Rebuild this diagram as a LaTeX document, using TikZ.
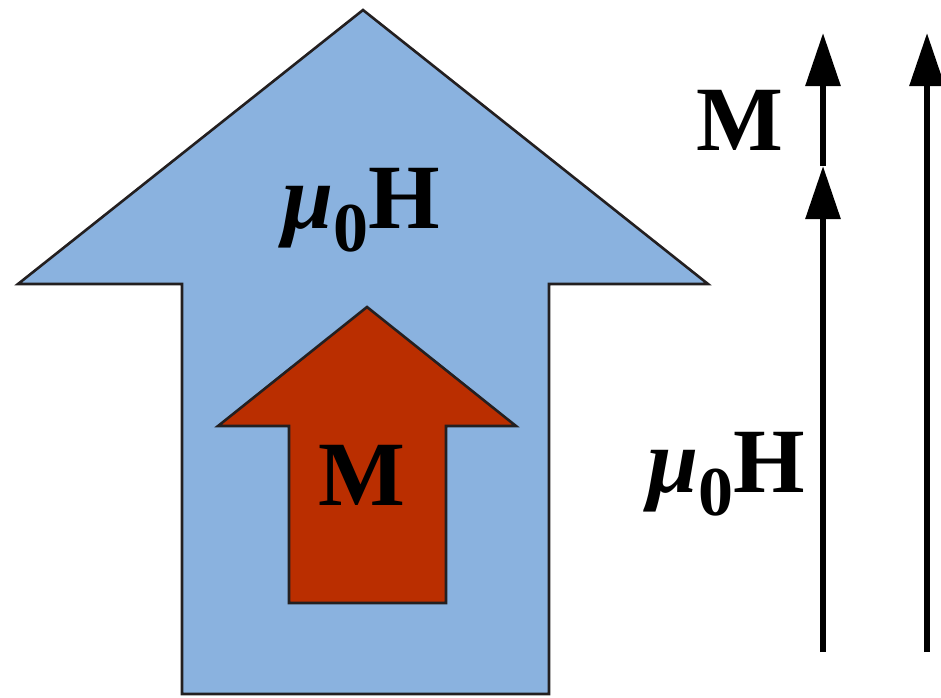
\documentclass[tikz,border=0pt]{standalone}
\usepackage{fontspec}
\setmainfont{Liberation Serif}
\usetikzlibrary{arrows.meta}
\definecolor{field}{HTML}{8AB2DF}
\definecolor{magnet}{HTML}{BA2E00}
\definecolor{edge}{HTML}{231F20}
\newcommand{\muzeroH}{\textit{μ}\raisebox{-0.26em}{\fontsize{70}{70}\selectfont 0}H}

\begin{document}
\begin{tikzpicture}[x=1pt,y=-1pt,
  vec/.style={line width=6pt,-{Triangle[width=34pt,length=53pt]}},
  lbl/.style={font=\fontsize{92}{92}\selectfont\bfseries,inner sep=0pt,anchor=base}]
\useasboundingbox (0,0) rectangle (941,697);
\draw[fill=field,draw=edge,line width=2.6pt] (363,10)--(708,284)--(549,284)--(549,694)--(182,694)--(182,284)--(18,284)--cycle;
\draw[fill=magnet,draw=edge,line width=2.6pt] (367,307)--(516,426)--(446,426)--(446,603)--(289,603)--(289,426)--(218,426)--cycle;
\node[lbl] (fieldlbl) at (361,228) {\muzeroH};
\node[lbl] (magnetlbl) at (362,505) {M};
% vector sum on the right
\coordinate (hbase) at (823,652); \coordinate (htip) at (823,166); \coordinate (mtip) at (823,33);
\coordinate (bbase) at (927,652); \coordinate (btip) at (927,33);
\draw[vec] (hbase)--(htip);
\draw[vec] (htip)--(mtip);
\draw[vec] (bbase)--(btip);
\node[lbl] (mlbl) at (740,150) {M};
\node[lbl] (hlbl) at (726,492) {\muzeroH};
\end{tikzpicture}
\end{document}
